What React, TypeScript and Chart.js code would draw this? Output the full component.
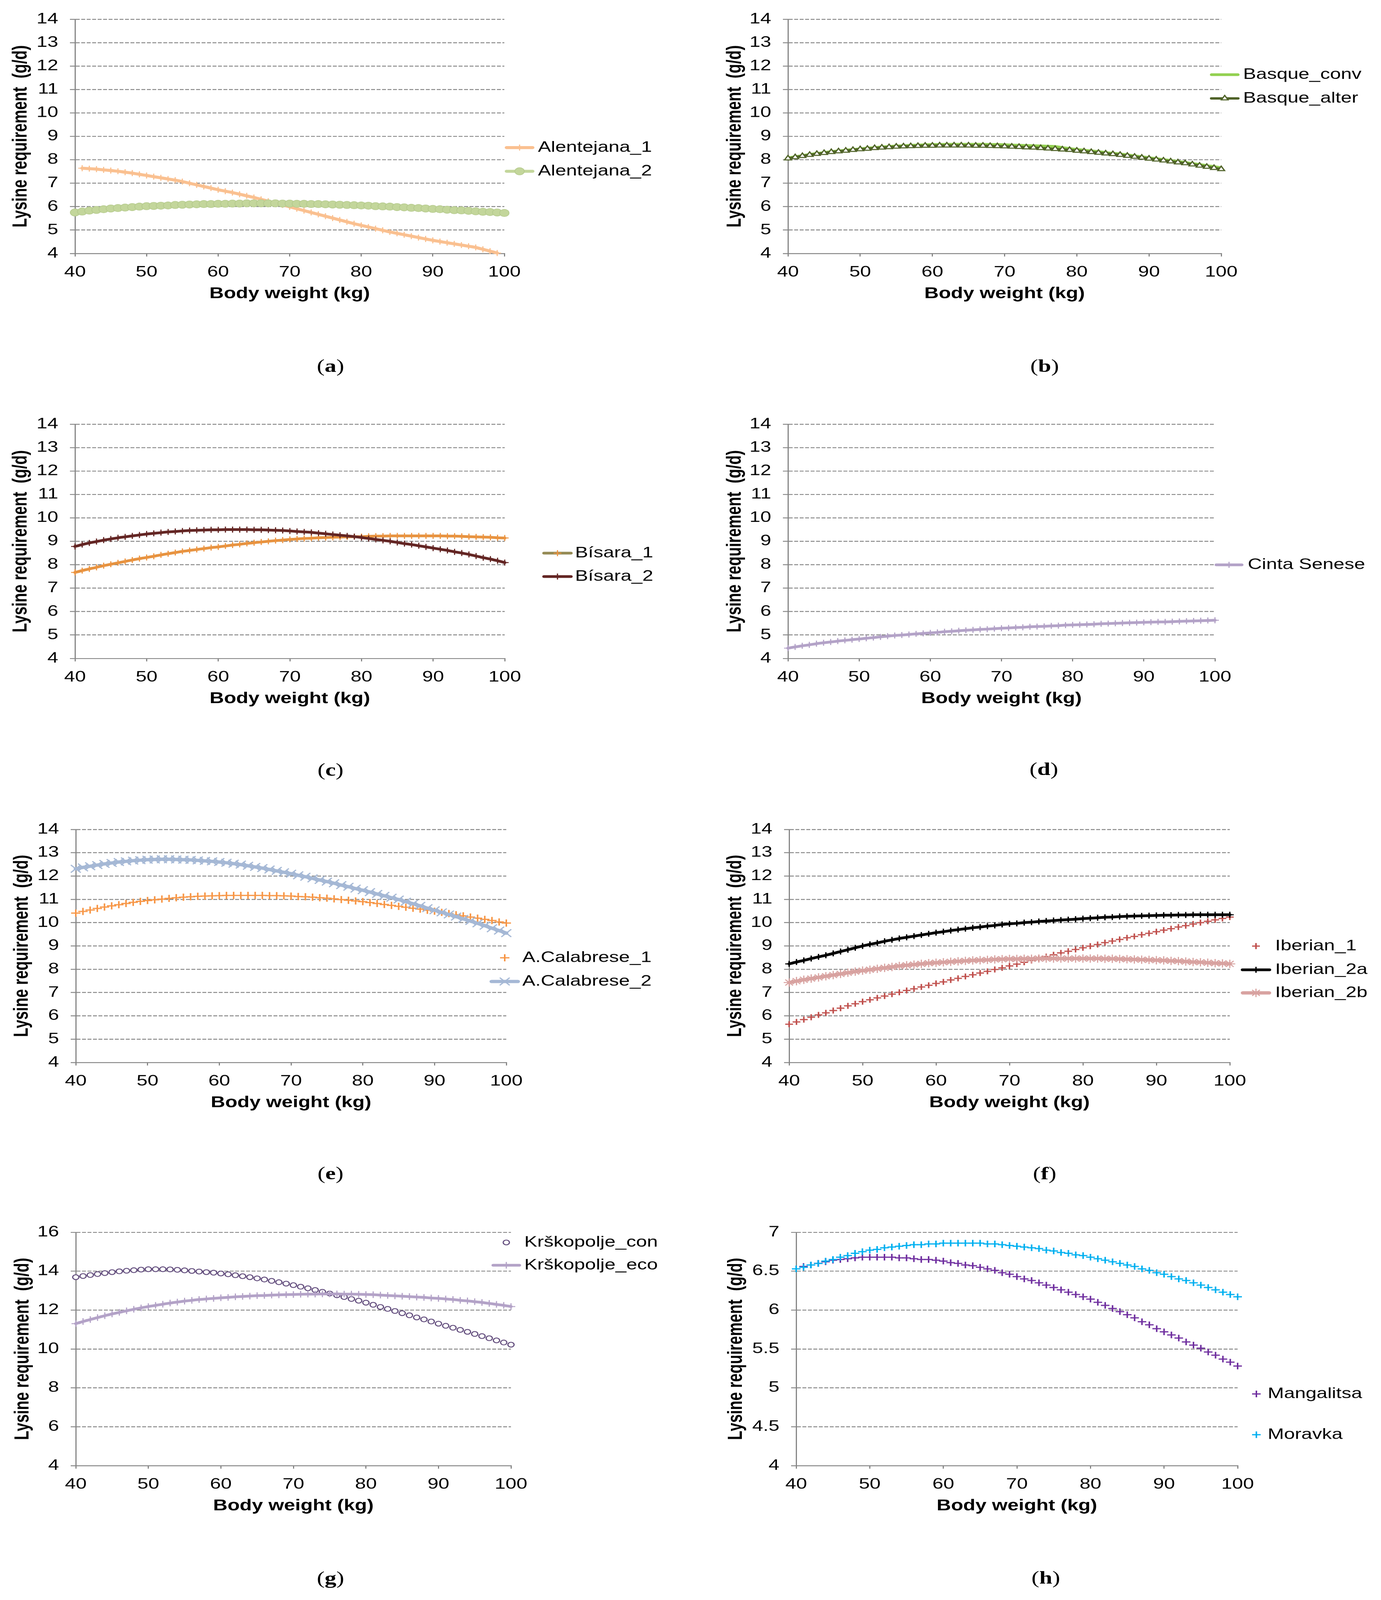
import React, { useEffect, useRef } from 'react';
import { Chart, registerables } from 'chart.js';
import { drawPoint } from 'chart.js/helpers';

Chart.register(...registerables);

if (typeof document !== 'undefined') {
  document.body.style.margin = '0';
  document.body.style.padding = '0';
  document.body.style.background = '#ffffff';
}

// ---------------- DATA ----------------
const BODY_WEIGHT = [
  40, 41, 42, 43, 44, 45, 46, 47, 48, 49,
  50, 51, 52, 53, 54, 55, 56, 57, 58, 59,
  60, 61, 62, 63, 64, 65, 66, 67, 68, 69,
  70, 71, 72, 73, 74, 75, 76, 77, 78, 79,
  80, 81, 82, 83, 84, 85, 86, 87, 88, 89,
  90, 91, 92, 93, 94, 95, 96, 97, 98, 99,
  100,
];
const X_TICKS = [40, 50, 60, 70, 80, 90, 100];
const Y_TICKS_STD = [4, 5, 6, 7, 8, 9, 10, 11, 12, 13, 14];
const Y_TICKS_G = [4, 6, 8, 10, 12, 14, 16];
const Y_TICKS_H = [4, 4.5, 5, 5.5, 6, 6.5, 7];

const ALENTEJANA_1 = [
  null, 7.64, 7.62, 7.60, 7.57, 7.54, 7.51, 7.47, 7.43, 7.38,
  7.33, 7.28, 7.23, 7.18, 7.13, 7.07, 7.00, 6.93, 6.86, 6.79,
  6.72, 6.66, 6.60, 6.53, 6.46, 6.39, 6.31, 6.23, 6.15, 6.07,
  5.99, 5.91, 5.83, 5.75, 5.67, 5.59, 5.51, 5.43, 5.35, 5.27,
  5.20, 5.13, 5.06, 4.99, 4.92, 4.86, 4.80, 4.74, 4.68, 4.62,
  4.56, 4.51, 4.46, 4.41, 4.36, 4.31, 4.26, 4.18, 4.10, 4.02,
  null,
];
const ALENTEJANA_2 = [
  5.75, 5.79, 5.83, 5.86, 5.89, 5.92, 5.94, 5.96, 5.98, 6.00,
  6.02, 6.03, 6.04, 6.05, 6.07, 6.08, 6.09, 6.10, 6.11, 6.11,
  6.12, 6.12, 6.13, 6.13, 6.14, 6.14, 6.14, 6.14, 6.14, 6.13,
  6.13, 6.12, 6.12, 6.11, 6.11, 6.10, 6.09, 6.08, 6.07, 6.06,
  6.05, 6.04, 6.02, 6.01, 6.00, 5.98, 5.97, 5.95, 5.94, 5.92,
  5.90, 5.89, 5.87, 5.85, 5.84, 5.82, 5.80, 5.78, 5.77, 5.75,
  5.73,
];
const BASQUE_CONV = [
  8.08, 8.13, 8.18, 8.23, 8.27, 8.31, 8.35, 8.38, 8.41, 8.44,
  8.47, 8.50, 8.52, 8.55, 8.57, 8.59, 8.60, 8.62, 8.63, 8.64,
  8.65, 8.65, 8.66, 8.66, 8.66, 8.66, 8.66, 8.66, 8.65, 8.65,
  8.64, 8.63, 8.62, 8.61, 8.60, 8.59, 8.58, 8.57, 8.52, 8.48,
  8.44, 8.41, 8.38, 8.35, 8.31, 8.28, 8.25, 8.21, 8.17, 8.13,
  8.09, 8.05, 8.01, 7.97, 7.93, 7.89, 7.84, 7.80, 7.75, 7.71,
  7.66,
];
const BASQUE_ALTER = [
  8.06, 8.11, 8.16, 8.21, 8.25, 8.29, 8.33, 8.36, 8.39, 8.42,
  8.45, 8.47, 8.50, 8.52, 8.54, 8.56, 8.57, 8.58, 8.59, 8.60,
  8.60, 8.61, 8.61, 8.61, 8.61, 8.61, 8.60, 8.60, 8.59, 8.58,
  8.57, 8.56, 8.55, 8.53, 8.52, 8.50, 8.48, 8.46, 8.44, 8.42,
  8.39, 8.36, 8.33, 8.30, 8.27, 8.24, 8.21, 8.17, 8.13, 8.09,
  8.05, 8.01, 7.97, 7.93, 7.89, 7.85, 7.80, 7.75, 7.70, 7.65,
  7.60,
];
const BISARA_1 = [
  7.67, 7.75, 7.82, 7.89, 7.96, 8.02, 8.08, 8.14, 8.20, 8.26,
  8.31, 8.36, 8.42, 8.47, 8.52, 8.57, 8.61, 8.65, 8.69, 8.73,
  8.76, 8.80, 8.84, 8.87, 8.91, 8.94, 8.97, 9.00, 9.03, 9.05,
  9.08, 9.10, 9.12, 9.13, 9.15, 9.16, 9.17, 9.18, 9.19, 9.20,
  9.20, 9.21, 9.22, 9.22, 9.23, 9.23, 9.23, 9.23, 9.23, 9.23,
  9.23, 9.23, 9.22, 9.22, 9.21, 9.20, 9.19, 9.18, 9.17, 9.15,
  9.14,
];
const BISARA_2 = [
  8.78, 8.86, 8.93, 8.99, 9.05, 9.10, 9.15, 9.19, 9.23, 9.27,
  9.31, 9.34, 9.37, 9.40, 9.42, 9.44, 9.46, 9.47, 9.48, 9.49,
  9.49, 9.50, 9.50, 9.50, 9.50, 9.49, 9.49, 9.48, 9.47, 9.46,
  9.44, 9.42, 9.40, 9.38, 9.35, 9.32, 9.29, 9.26, 9.23, 9.20,
  9.16, 9.12, 9.08, 9.04, 9.00, 8.95, 8.90, 8.86, 8.81, 8.76,
  8.71, 8.66, 8.61, 8.55, 8.50, 8.44, 8.37, 8.30, 8.24, 8.17,
  8.09,
];
const CINTA_SENESE = [
  4.44, 4.49, 4.54, 4.58, 4.63, 4.67, 4.70, 4.74, 4.77, 4.80,
  4.83, 4.86, 4.89, 4.92, 4.95, 4.98, 5.00, 5.02, 5.05, 5.07,
  5.09, 5.11, 5.14, 5.16, 5.18, 5.20, 5.22, 5.24, 5.25, 5.27,
  5.29, 5.30, 5.32, 5.33, 5.35, 5.36, 5.37, 5.39, 5.40, 5.42,
  5.43, 5.44, 5.45, 5.46, 5.48, 5.49, 5.50, 5.51, 5.52, 5.53,
  5.54, 5.55, 5.56, 5.56, 5.57, 5.58, 5.59, 5.60, 5.61, 5.62,
  5.63,
];
const CALABRESE_1 = [
  10.41, 10.48, 10.54, 10.61, 10.67, 10.72, 10.77, 10.82, 10.87, 10.91,
  10.95, 10.98, 11.01, 11.04, 11.07, 11.09, 11.11, 11.13, 11.14, 11.15,
  11.16, 11.17, 11.17, 11.17, 11.17, 11.17, 11.17, 11.16, 11.16, 11.15,
  11.14, 11.12, 11.11, 11.09, 11.07, 11.05, 11.02, 10.99, 10.96, 10.93,
  10.90, 10.86, 10.82, 10.78, 10.74, 10.70, 10.66, 10.62, 10.58, 10.53,
  10.49, 10.44, 10.39, 10.34, 10.29, 10.24, 10.19, 10.14, 10.09, 10.03,
  9.98,
];
const CALABRESE_2 = [
  12.31, 12.37, 12.42, 12.47, 12.52, 12.56, 12.60, 12.63, 12.66, 12.68,
  12.70, 12.71, 12.72, 12.72, 12.71, 12.70, 12.69, 12.67, 12.65, 12.63,
  12.60, 12.57, 12.53, 12.49, 12.44, 12.39, 12.34, 12.28, 12.22, 12.16,
  12.10, 12.03, 11.97, 11.90, 11.83, 11.76, 11.69, 11.61, 11.54, 11.46,
  11.39, 11.31, 11.23, 11.15, 11.07, 10.99, 10.90, 10.81, 10.72, 10.62,
  10.53, 10.44, 10.35, 10.26, 10.16, 10.07, 9.97, 9.87, 9.76, 9.66,
  9.55,
];
const IBERIAN_1 = [
  5.64, 5.74, 5.84, 5.94, 6.04, 6.13, 6.23, 6.33, 6.43, 6.52,
  6.61, 6.69, 6.77, 6.85, 6.93, 7.01, 7.09, 7.16, 7.24, 7.31,
  7.39, 7.46, 7.54, 7.61, 7.69, 7.76, 7.84, 7.91, 7.99, 8.06,
  8.14, 8.22, 8.30, 8.38, 8.46, 8.54, 8.62, 8.70, 8.77, 8.85,
  8.92, 8.99, 9.06, 9.14, 9.21, 9.28, 9.35, 9.41, 9.48, 9.54,
  9.61, 9.68, 9.74, 9.81, 9.87, 9.94, 10.00, 10.06, 10.12, 10.18,
  10.24,
];
const IBERIAN_2A = [
  8.23, 8.31, 8.38, 8.46, 8.53, 8.60, 8.68, 8.76, 8.84, 8.92,
  9.00, 9.07, 9.13, 9.20, 9.26, 9.32, 9.37, 9.42, 9.47, 9.52,
  9.57, 9.61, 9.66, 9.70, 9.74, 9.78, 9.81, 9.85, 9.88, 9.92,
  9.95, 9.97, 10.00, 10.02, 10.05, 10.07, 10.09, 10.11, 10.13, 10.15,
  10.17, 10.19, 10.21, 10.23, 10.24, 10.26, 10.27, 10.28, 10.29, 10.30,
  10.31, 10.32, 10.32, 10.33, 10.33, 10.34, 10.34, 10.34, 10.34, 10.34,
  10.34,
];
const IBERIAN_2B = [
  7.43, 7.49, 7.55, 7.60, 7.65, 7.70, 7.75, 7.80, 7.85, 7.90,
  7.94, 7.98, 8.02, 8.06, 8.10, 8.14, 8.17, 8.20, 8.23, 8.26,
  8.28, 8.30, 8.32, 8.34, 8.36, 8.38, 8.39, 8.40, 8.42, 8.43,
  8.44, 8.44, 8.45, 8.45, 8.46, 8.46, 8.46, 8.46, 8.46, 8.46,
  8.46, 8.46, 8.46, 8.45, 8.45, 8.44, 8.43, 8.42, 8.41, 8.40,
  8.39, 8.38, 8.36, 8.35, 8.33, 8.31, 8.30, 8.28, 8.26, 8.25,
  8.23,
];
const KRSKOPOLJE_CON = [
  13.69, 13.75, 13.80, 13.85, 13.90, 13.95, 13.99, 14.02, 14.05, 14.08,
  14.10, 14.10, 14.10, 14.09, 14.07, 14.04, 14.01, 13.98, 13.95, 13.92,
  13.88, 13.84, 13.79, 13.74, 13.69, 13.63, 13.57, 13.50, 13.43, 13.36,
  13.28, 13.20, 13.12, 13.03, 12.94, 12.85, 12.76, 12.67, 12.57, 12.48,
  12.38, 12.27, 12.16, 12.06, 11.95, 11.84, 11.73, 11.62, 11.52, 11.41,
  11.30, 11.19, 11.09, 10.98, 10.88, 10.77, 10.66, 10.55, 10.44, 10.33,
  10.22,
];
const KRSKOPOLJE_ECO = [
  11.30, 11.41, 11.51, 11.61, 11.71, 11.80, 11.88, 11.96, 12.04, 12.11,
  12.18, 12.24, 12.30, 12.36, 12.41, 12.46, 12.50, 12.54, 12.57, 12.60,
  12.63, 12.65, 12.68, 12.70, 12.72, 12.74, 12.75, 12.77, 12.78, 12.79,
  12.80, 12.81, 12.82, 12.82, 12.83, 12.83, 12.83, 12.82, 12.82, 12.81,
  12.80, 12.79, 12.77, 12.75, 12.73, 12.71, 12.69, 12.67, 12.65, 12.62,
  12.60, 12.57, 12.54, 12.50, 12.47, 12.43, 12.39, 12.34, 12.29, 12.24,
  12.18,
];
const MANGALITSA = [
  6.53, 6.56, 6.58, 6.60, 6.62, 6.64, 6.65, 6.66, 6.67, 6.68,
  6.68, 6.68, 6.68, 6.68, 6.67, 6.67, 6.66, 6.65, 6.65, 6.64,
  6.63, 6.61, 6.60, 6.58, 6.57, 6.55, 6.53, 6.51, 6.48, 6.46,
  6.43, 6.40, 6.38, 6.35, 6.32, 6.29, 6.26, 6.23, 6.20, 6.17,
  6.14, 6.10, 6.06, 6.02, 5.98, 5.94, 5.90, 5.85, 5.81, 5.76,
  5.72, 5.68, 5.64, 5.59, 5.55, 5.51, 5.46, 5.42, 5.37, 5.33,
  5.28,
];
const MORAVKA = [
  6.53, 6.55, 6.58, 6.60, 6.63, 6.65, 6.68, 6.70, 6.73, 6.75,
  6.77, 6.78, 6.80, 6.81, 6.82, 6.83, 6.84, 6.84, 6.85, 6.85,
  6.86, 6.86, 6.86, 6.86, 6.86, 6.86, 6.85, 6.85, 6.84, 6.83,
  6.82, 6.81, 6.80, 6.79, 6.77, 6.76, 6.74, 6.73, 6.71, 6.70,
  6.68, 6.66, 6.64, 6.62, 6.60, 6.58, 6.56, 6.53, 6.51, 6.48,
  6.46, 6.43, 6.40, 6.38, 6.35, 6.32, 6.29, 6.26, 6.23, 6.20,
  6.17,
];

// ---------------- STYLE / LAYOUT ----------------
const PAGE_W = 3535;
const PAGE_H = 5334;
const FONT = '"Liberation Sans", Arial, Helvetica, sans-serif';
const SERIF = '"Liberation Serif", "Times New Roman", Times, serif';
const AXIS_GRAY = '#868686';
const TICK_SIZE = 50;
const TITLE_SIZE = 51;
const LEGEND_SIZE = 50;
const Y_TITLE = 'Lysine requirement  (g/d)';
const X_TITLE = 'Body weight (kg)';

Chart.defaults.font.family = FONT;

type Series = {
  label: string;
  values: (number | null)[];
  color: string;
  showLine: boolean;
  lineWidth: number;
  pointStyle: string;
  pointRadius: number;
  pointBorderWidth: number;
  pointFill: string;
  pointBorder: string;
  legendLineColor?: string;
};

type Panel = {
  id: string;
  canvasX: number; canvasY: number; canvasW: number; canvasH: number;
  plotL: number; plotR: number; plotT: number; plotB: number;
  yTitleX: number;
  yTicks: number[];
  legendCX: number; legendHalf: number; legendTextX: number; legendRows: number[];
  series: Series[];
  letterX: number; letterY: number;
};

const ser = (
  label: string, values: (number | null)[], color: string, showLine: boolean, lineWidth: number,
  pointStyle: string, pointRadius: number, pointBorderWidth: number, pointFill?: string, pointBorder?: string,
  legendLineColor?: string,
): Series => ({
  label, values, color, showLine, lineWidth, pointStyle, pointRadius, pointBorderWidth,
  pointFill: pointFill || color, pointBorder: pointBorder || color, legendLineColor,
});

const LEFT_X = 0;
const RIGHT_X = 1767;
const LEFT_W = 1767;
const RIGHT_W = 1768;
const CANVAS_H = 1060;

const PANELS: Panel[] = [
  {
    id: 'a', canvasX: LEFT_X, canvasY: 0, canvasW: LEFT_W, canvasH: CANVAS_H,
    plotL: 192, plotR: 1291, plotT: 64, plotB: 845, yTitleX: 54, yTicks: Y_TICKS_STD,
    legendCX: 1330, legendHalf: 38, legendTextX: 1377, legendRows: [492, 571],
    series: [
      ser('Alentejana_1', ALENTEJANA_1, '#FAC090', true, 10, 'cross', 10, 3),
      ser('Alentejana_2', ALENTEJANA_2, '#C3D69B', true, 10, 'circle', 12, 2, '#C3D69B', '#B6CB8E'),
    ],
    letterX: 846, letterY: 1220,
  },
  {
    id: 'b', canvasX: RIGHT_X, canvasY: 0, canvasW: RIGHT_W, canvasH: CANVAS_H,
    plotL: 2017, plotR: 3126, plotT: 64, plotB: 845, yTitleX: 1882, yTicks: Y_TICKS_STD,
    legendCX: 3135, legendHalf: 38, legendTextX: 3182, legendRows: [249, 328],
    series: [
      ser('Basque_conv', BASQUE_CONV, '#92D050', true, 9, 'circle', 0, 0),
      ser('Basque_alter', BASQUE_ALTER, '#4F6228', true, 8, 'triangle', 10, 3.5, '#FFFFFF', '#4F6228'),
    ],
    letterX: 2674, letterY: 1220,
  },
  {
    id: 'c', canvasX: LEFT_X, canvasY: 1350, canvasW: LEFT_W, canvasH: CANVAS_H,
    plotL: 192, plotR: 1292, plotT: 1414, plotB: 2195, yTitleX: 54, yTicks: Y_TICKS_STD,
    legendCX: 1427, legendHalf: 39, legendTextX: 1472, legendRows: [1844, 1922],
    series: [
      ser('Bísara_1', BISARA_1, '#E0913F', true, 9, 'cross', 10, 3, '#EE9440', '#EE9440', '#948A54'),
      ser('Bísara_2', BISARA_2, '#632523', true, 9, 'cross', 10, 3),
    ],
    letterX: 846, letterY: 2566,
  },
  {
    id: 'd', canvasX: RIGHT_X, canvasY: 1350, canvasW: RIGHT_W, canvasH: CANVAS_H,
    plotL: 2017, plotR: 3110, plotT: 1414, plotB: 2195, yTitleX: 1882, yTicks: Y_TICKS_STD,
    legendCX: 3146, legendHalf: 37, legendTextX: 3194, legendRows: [1883],
    series: [
      ser('Cinta Senese', CINTA_SENESE, '#B3A2C7', true, 9, 'cross', 10, 3),
    ],
    letterX: 2672, letterY: 2564,
  },
  {
    id: 'e', canvasX: LEFT_X, canvasY: 2701, canvasW: LEFT_W, canvasH: CANVAS_H,
    plotL: 194, plotR: 1296, plotT: 2765, plotB: 3542, yTitleX: 57, yTicks: Y_TICKS_STD,
    legendCX: 1292, legendHalf: 39, legendTextX: 1337, legendRows: [3193, 3272],
    series: [
      ser('A.Calabrese_1', CALABRESE_1, '#F79646', false, 0, 'cross', 12, 4),
      ser('A.Calabrese_2', CALABRESE_2, '#A5B8D5', true, 11, 'crossRot', 18, 3.5),
    ],
    letterX: 846, letterY: 3911,
  },
  {
    id: 'f', canvasX: RIGHT_X, canvasY: 2701, canvasW: RIGHT_W, canvasH: CANVAS_H,
    plotL: 2020, plotR: 3148, plotT: 2765, plotB: 3542, yTitleX: 1883, yTicks: Y_TICKS_STD,
    legendCX: 3215, legendHalf: 39, legendTextX: 3264, legendRows: [3154, 3233, 3310],
    series: [
      ser('Iberian_1', IBERIAN_1, '#C0504D', false, 0, 'cross', 10, 4),
      ser('Iberian_2a', IBERIAN_2A, '#000000', true, 9, 'cross', 10, 3.5),
      ser('Iberian_2b', IBERIAN_2B, '#D8A2A0', true, 11, 'star', 14, 3),
    ],
    letterX: 2674, letterY: 3912,
  },
  {
    id: 'g', canvasX: LEFT_X, canvasY: 4044, canvasW: LEFT_W, canvasH: CANVAS_H,
    plotL: 194, plotR: 1308, plotT: 4108, plotB: 4886, yTitleX: 59, yTicks: Y_TICKS_G,
    legendCX: 1296, legendHalf: 38, legendTextX: 1342, legendRows: [4142, 4218],
    series: [
      ser('Krškopolje_con', KRSKOPOLJE_CON, '#5F497A', false, 0, 'circle', 8, 3, '#FFFFFF', '#5F497A'),
      ser('Krškopolje_eco', KRSKOPOLJE_ECO, '#B3A2C7', true, 9, 'cross', 11, 3),
    ],
    letterX: 846, letterY: 5261,
  },
  {
    id: 'h', canvasX: RIGHT_X, canvasY: 4044, canvasW: RIGHT_W, canvasH: CANVAS_H,
    plotL: 2038, plotR: 3168, plotT: 4108, plotB: 4886, yTitleX: 1885, yTicks: Y_TICKS_H,
    legendCX: 3216, legendHalf: 0, legendTextX: 3245, legendRows: [4647, 4783],
    series: [
      ser('Mangalitsa', MANGALITSA, '#7030A0', false, 0, 'cross', 11, 4),
      ser('Moravka', MORAVKA, '#00B0F0', false, 0, 'cross', 11, 4),
    ],
    letterX: 2677, letterY: 5259,
  },
];

const X_AXIS_H = 170;
const X_TICK_OFFSET = 63; // label centre below plot bottom
const X_TITLE_OFFSET = 135; // title centre below plot bottom
const X_TICK_LEN = 10;
const Y_TICK_LEN = 13;
const Y_LABEL_GAP = 43;

function ChartPanel({ p }: { p: Panel }) {
  const ref = useRef<HTMLCanvasElement | null>(null);

  useEffect(() => {
    const canvas = ref.current;
    if (!canvas) return;
    const ox = p.canvasX;
    const oy = p.canvasY;
    const topPad = p.plotT - oy;
    const bottomPad = p.canvasH - (p.plotB - oy) - X_AXIS_H;
    const rightPad = p.canvasW - (p.plotR - ox);
    const yAxisW = p.plotL - ox;
    const titleLH = TITLE_SIZE * 1.2;
    const tickLH = TICK_SIZE * 1.2;
    const n = p.series.length;

    const datasets = p.series.map((s, i) => ({
      label: s.label,
      data: BODY_WEIGHT.map((x, k) => ({ x, y: s.values[k] })),
      borderColor: s.color,
      backgroundColor: s.color,
      borderWidth: s.lineWidth,
      showLine: s.showLine,
      pointStyle: s.pointStyle,
      pointRadius: s.pointRadius,
      pointHoverRadius: s.pointRadius,
      pointBorderWidth: s.pointBorderWidth,
      pointHoverBorderWidth: s.pointBorderWidth,
      pointBackgroundColor: s.pointFill,
      pointBorderColor: s.pointBorder,
      tension: 0,
      clip: false,
      order: n - i,
      borderJoinStyle: 'round',
      borderCapStyle: 'round',
      fill: false,
    }));

    const legendPlugin = {
      id: 'sideLegend_' + p.id,
      afterDraw(chart: any) {
        const ctx = chart.ctx as CanvasRenderingContext2D;
        ctx.save();
        p.series.forEach((s, i) => {
          const cx = p.legendCX - ox;
          const cy = p.legendRows[i] - oy;
          if (s.showLine && p.legendHalf > 0) {
            ctx.beginPath();
            ctx.lineCap = 'round';
            ctx.lineWidth = s.lineWidth;
            ctx.strokeStyle = s.legendLineColor || s.color;
            ctx.moveTo(cx - p.legendHalf + s.lineWidth / 2, cy);
            ctx.lineTo(cx + p.legendHalf - s.lineWidth / 2, cy);
            ctx.stroke();
          }
          if (s.pointRadius > 0) {
            ctx.fillStyle = s.pointFill;
            ctx.strokeStyle = s.pointBorder;
            ctx.lineWidth = s.pointBorderWidth;
            ctx.lineCap = 'butt';
            drawPoint(ctx, {
              pointStyle: s.pointStyle,
              radius: s.pointRadius,
              rotation: 0,
              borderWidth: s.pointBorderWidth,
            } as any, cx, cy);
          }
          ctx.fillStyle = '#000000';
          ctx.font = `${LEGEND_SIZE}px ${FONT}`;
          ctx.textAlign = 'left';
          ctx.textBaseline = 'middle';
          ctx.fillText(s.label, p.legendTextX - ox, cy);
        });
        ctx.restore();
      },
    };

    const yTicks = p.yTicks;
    const chart = new Chart(canvas, {
      type: 'line',
      data: { datasets: datasets as any },
      options: {
        responsive: false,
        animation: false,
        devicePixelRatio: 1,
        events: [],
        layout: { padding: { left: 0, top: topPad, right: rightPad, bottom: bottomPad } },
        plugins: {
          legend: { display: false },
          tooltip: { enabled: false },
          title: { display: false },
        },
        scales: {
          x: {
            type: 'linear',
            min: X_TICKS[0],
            max: X_TICKS[X_TICKS.length - 1],
            afterBuildTicks: (axis: any) => {
              axis.ticks = X_TICKS.map((v) => ({ value: v }));
            },
            afterFit: (axis: any) => {
              axis.height = X_AXIS_H;
            },
            grid: {
              display: true,
              drawOnChartArea: false,
              drawTicks: true,
              tickLength: X_TICK_LEN,
              tickColor: AXIS_GRAY,
              tickWidth: 3,
              color: AXIS_GRAY,
              lineWidth: 3,
            },
            border: { display: true, color: AXIS_GRAY, width: 3 },
            ticks: {
              autoSkip: false,
              maxRotation: 0,
              minRotation: 0,
              padding: X_TICK_OFFSET - X_TICK_LEN - tickLH / 2,
              color: '#000000',
              font: { family: FONT, size: TICK_SIZE, lineHeight: 1.2 },
              callback: (v: any) => String(v),
            },
            title: {
              display: true,
              text: X_TITLE,
              color: '#000000',
              font: { family: FONT, size: TITLE_SIZE, weight: 'bold', lineHeight: 1.2 },
              padding: { top: 0, bottom: X_AXIS_H - X_TITLE_OFFSET - titleLH / 2 },
            },
          },
          y: {
            type: 'linear',
            min: yTicks[0],
            max: yTicks[yTicks.length - 1],
            afterBuildTicks: (axis: any) => {
              axis.ticks = yTicks.map((v) => ({ value: v }));
            },
            afterFit: (axis: any) => {
              axis.width = yAxisW;
            },
            grid: {
              display: true,
              drawOnChartArea: true,
              drawTicks: true,
              tickLength: Y_TICK_LEN,
              tickColor: AXIS_GRAY,
              tickWidth: 3,
              color: AXIS_GRAY,
              lineWidth: 3,
            },
            border: { display: true, color: AXIS_GRAY, width: 3, dash: [10, 4] },
            ticks: {
              autoSkip: false,
              padding: Y_LABEL_GAP - Y_TICK_LEN,
              color: '#000000',
              font: { family: FONT, size: TICK_SIZE, lineHeight: 1.2 },
              callback: (v: any) => String(v),
            },
            title: {
              display: true,
              text: Y_TITLE,
              color: '#000000',
              font: { family: FONT, size: TITLE_SIZE, weight: 'bold', lineHeight: 1.2 },
              padding: { top: p.yTitleX - ox - titleLH / 2, bottom: 0 },
            },
          },
        },
      } as any,
      plugins: [legendPlugin],
    });
    return () => {
      chart.destroy();
    };
  }, [p]);

  return (
    <canvas
      ref={ref}
      width={p.canvasW}
      height={p.canvasH}
      style={{
        position: 'absolute',
        left: p.canvasX,
        top: p.canvasY,
        width: p.canvasW,
        height: p.canvasH,
        display: 'block',
      }}
    />
  );
}

function Letter({ p }: { p: Panel }) {
  return (
    <div
      style={{
        position: 'absolute',
        left: p.letterX - 100,
        top: p.letterY - 40,
        width: 200,
        height: 80,
        lineHeight: '80px',
        textAlign: 'center',
        fontFamily: SERIF,
        fontSize: 60,
        color: '#000',
      }}
    >
      (<b>{p.id}</b>)
    </div>
  );
}

export default function App() {
  // The figure is laid out at its natural 3535 x 5334 size; if the viewport is
  // shorter than that, the whole figure is fitted to the viewport height so that
  // nothing is cut off.
  const vh = typeof window !== 'undefined' && window.innerHeight ? window.innerHeight : PAGE_H;
  const sy = vh < PAGE_H ? vh / PAGE_H : 1;
  return (
    <div
      style={{
        position: 'relative',
        width: PAGE_W,
        height: Math.floor(PAGE_H * sy),
        overflow: 'hidden',
        background: '#ffffff',
      }}
    >
      <div
        style={{
          position: 'absolute',
          left: 0,
          top: 0,
          width: PAGE_W,
          height: PAGE_H,
          background: '#ffffff',
          transform: `scale(1, ${sy})`,
          transformOrigin: '0 0',
        }}
      >
        {PANELS.map((p) => (
          <React.Fragment key={p.id}>
            <ChartPanel p={p} />
            <Letter p={p} />
          </React.Fragment>
        ))}
      </div>
    </div>
  );
}
